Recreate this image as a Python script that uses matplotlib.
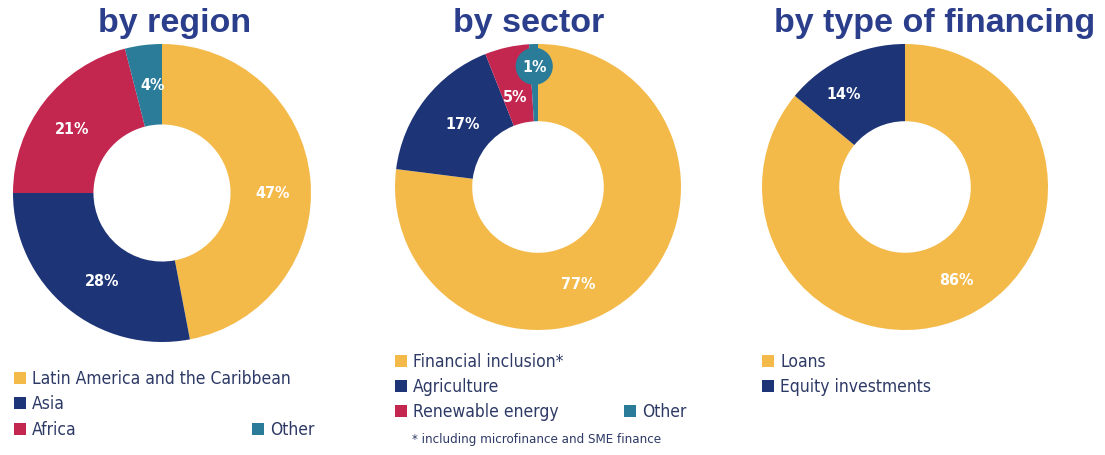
import matplotlib
matplotlib.use("Agg")
import numpy as np
import matplotlib.pyplot as plt
from matplotlib.patches import Rectangle, Circle

# data
region_labels = ["Latin America and the Caribbean", "Asia", "Africa", "Other"]
region_values = [47, 28, 21, 4]
sector_labels = ["Financial inclusion*", "Agriculture", "Renewable energy", "Other"]
sector_values = [77, 17, 5, 1]
financing_labels = ["Loans", "Equity investments"]
financing_values = [86, 14]
titles = ["by region", "by sector", "by type of financing"]
footnote = "* including microfinance and SME finance"

YELLOW = "#F3BA4A"
NAVY = "#1D3477"
CRIMSON = "#C3274F"
TEAL = "#2A7C98"
colors = [YELLOW, NAVY, CRIMSON, TEAL]
TITLE_C = "#2B3E8C"
LEG_C = "#2E3A66"

W, H = 1105, 456
fig = plt.figure(figsize=(W / 100, H / 100), dpi=100)
fig.patch.set_facecolor("white")

COND = dict(family="DejaVu Sans", stretch="condensed")


def px_axes(cx, cy, r):
    return fig.add_axes([(cx - r) / W, (H - cy - r) / H, 2 * r / W, 2 * r / H])


def donut(ax, values, cols, radii, shift, hole=0.46, skip=()):
    wedges, _ = ax.pie(values, colors=cols, startangle=90, counterclock=False,
                       radius=1.0, wedgeprops=dict(width=1.0 - hole, linewidth=0))
    for i, w in enumerate(wedges):
        if i in skip:
            continue
        ang = np.deg2rad((w.theta1 + w.theta2) / 2 + shift[i])
        ax.text(radii[i] * np.cos(ang), radii[i] * np.sin(ang), f"{values[i]}%",
                ha="center", va="center", color="white", fontsize=11.5,
                fontweight="bold", **COND)
    ax.set_xlim(-1, 1)
    ax.set_ylim(-1, 1)
    ax.set_aspect("equal")
    ax.axis("off")
    return wedges


ax1 = px_axes(162, 194, 149)
donut(ax1, region_values, colors, [0.74, 0.71, 0.74, 0.73], [-5, 5, 2, -2])

ax2 = px_axes(538, 188, 143)
w2 = donut(ax2, sector_values, colors, [0.73, 0.69, 0.65, 0.8], [-19, -2, 1.5, 0],
           skip=(3,))
# the 1% slice gets its label in a small bubble on the outer edge
ang = np.deg2rad((w2[3].theta1 + w2[3].theta2) / 2)
cx, cy = 0.845 * np.cos(ang), 0.845 * np.sin(ang)
ax2.add_patch(Circle((cx, cy), 0.13, color=TEAL, zorder=5, lw=0))
ax2.text(cx, cy, f"{sector_values[3]}%", ha="center", va="center", color="white",
         fontsize=11.5, fontweight="bold", zorder=6, **COND)

ax3 = px_axes(905, 188, 143)
donut(ax3, financing_values, colors[:2], [0.74, 0.78], [4, 8])

# titles
for x, t in zip([175, 529, 935], titles):
    fig.text(x / W, 1 - 24 / H, t, ha="center", va="center", fontsize=24.5,
             fontweight="bold", color=TITLE_C, family="Liberation Sans")


def legend_item(x, y, label, col):
    s = 12
    fig.patches.append(Rectangle((x / W, (H - y - s / 2) / H), s / W, s / H,
                                 transform=fig.transFigure, color=col, lw=0))
    fig.text((x + 18) / W, 1 - y / H, label, ha="left", va="center", fontsize=12.5,
             color=LEG_C, **COND)


legend_item(14, 379, region_labels[0], colors[0])
legend_item(14, 404, region_labels[1], colors[1])
legend_item(14, 430, region_labels[2], colors[2])
legend_item(252, 430, region_labels[3], colors[3])

legend_item(395, 362, sector_labels[0], colors[0])
legend_item(395, 387, sector_labels[1], colors[1])
legend_item(395, 412, sector_labels[2], colors[2])
legend_item(624, 412, sector_labels[3], colors[3])
fig.text(412 / W, 1 - 440 / H, footnote, ha="left", va="center", fontsize=9.5,
         color=LEG_C, **COND)

legend_item(762, 362, financing_labels[0], colors[0])
legend_item(762, 387, financing_labels[1], colors[1])

fig.savefig("out.png", dpi=100, facecolor="white")
